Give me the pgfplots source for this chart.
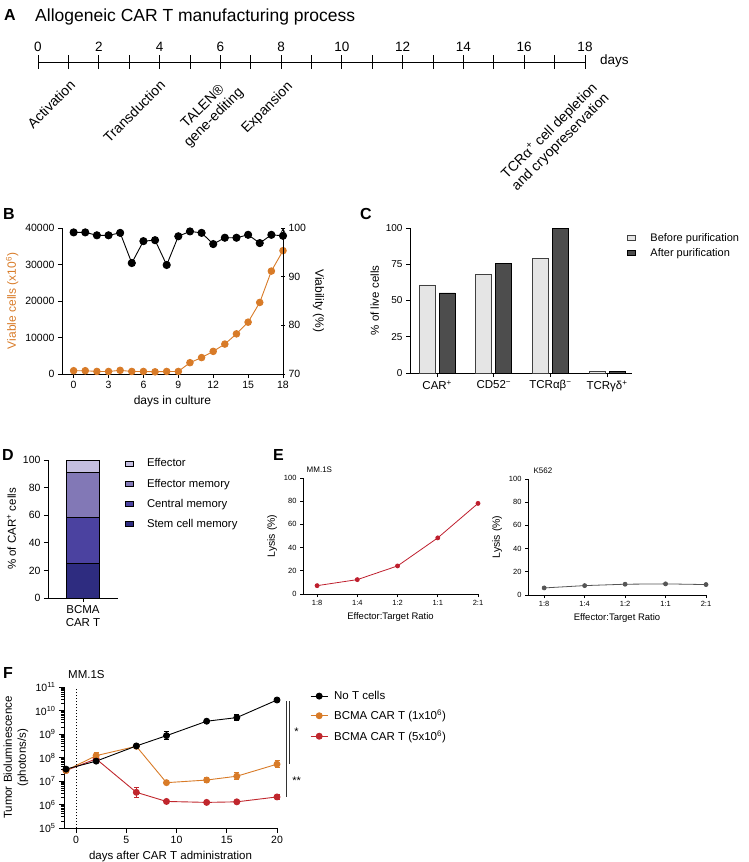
\documentclass[border=0pt]{standalone}
\usepackage{fontspec}
\setmainfont{Liberation Sans}
\setsansfont{Liberation Sans}
\usepackage{pgfplots}
\pgfplotsset{compat=1.18}
\definecolor{orB}{RGB}{216,123,40}
\definecolor{redF}{RGB}{192,39,45}
\definecolor{redE}{RGB}{190,30,45}
\definecolor{grayE}{RGB}{85,85,85}
\definecolor{lightG}{RGB}{229,229,229}
\definecolor{darkG}{RGB}{77,77,77}
\definecolor{effC}{RGB}{196,190,224}
\definecolor{effmC}{RGB}{130,120,182}
\definecolor{centC}{RGB}{75,66,160}
\definecolor{stemC}{RGB}{46,44,128}
\pgfplotsset{
  gp/.style={
    scale only axis, anchor=south west,
    axis x line=bottom, axis y line=left,
    axis line style={-, line width=0.8pt},
    every outer x axis line/.append style={-},
    every outer y axis line/.append style={-},
    tick align=outside, major tick length=4pt,
    tick style={black, line width=0.8pt},
    /pgf/number format/assume math mode=true,
    legend cell align=left,
    clip=false,
  },
  boxlegend/.style={legend image code/.code={\draw[##1, line width=0.8pt] (0pt,-2.5pt) rectangle (8pt,2.5pt);}},
}
\begin{document}
\begin{tikzpicture}
\useasboundingbox (0,0) rectangle (748pt,-862pt);

% panel letters
\begin{scope}[every node/.style={anchor=base west, inner sep=0pt, font=\fontsize{16}{16}\selectfont\bfseries}]
\node at (4pt,-20pt) {A};
\node at (3pt,-219pt) {B};
\node at (360pt,-219pt) {C};
\node at (2pt,-460pt) {D};
\node at (273pt,-460pt) {E};
\node at (3pt,-678pt) {F};
\end{scope}

% ---------------- A ----------------
\node[anchor=base west, inner sep=0pt, font=\fontsize{17.5}{18}\selectfont] at (35pt,-21pt) {Allogeneic CAR T manufacturing process};
\begin{axis}[scale only axis, at={(38pt,-62pt)}, anchor=north west, width=547pt, height=1pt,
  xmin=0, xmax=18, ymin=0, ymax=1, axis x line=top, axis y line=none,
  axis line style={-, line width=0.8pt}, every outer x axis line/.append style={-},
  xtick={0,...,18}, xticklabels={0,,2,,4,,6,,8,,10,,12,,14,,16,,18},
  tick align=center, major tick length=14pt, tick style={black, line width=0.8pt},
  xticklabel style={font=\fontsize{13.5}{14}\selectfont}]
\end{axis}
\node[anchor=west, inner sep=0pt, font=\fontsize{13.5}{14}\selectfont] at (600pt,-61pt) {days};
\begin{scope}[every node/.style={rotate=45, anchor=north east, inner sep=0pt, align=center, font=\fontsize{14}{15.5}\selectfont}]
\node at (69pt,-79pt) {Activation};
\node at (159pt,-79pt) {Transduction};
\node at (226pt,-75pt) {TALEN®\\gene-editing};
\node at (286pt,-80pt) {Expansion};
\node at (591pt,-80pt) {TCRα\textsuperscript{+} cell depletion\\and cryopreservation};
\end{scope}

% ---------------- B ----------------
\begin{axis}[gp, at={(62pt,-374pt)}, width=221pt, height=146pt,
  xmin=-1, xmax=18, ymin=0, ymax=40000,
  xtick={0,3,...,18}, ytick={0,10000,20000,30000,40000}, scaled y ticks=false,
  yticklabel style={/pgf/number format/fixed, /pgf/number format/1000 sep={}},
  ticklabel style={font=\fontsize{10.5}{12}\selectfont},
  xlabel={days in culture}, ylabel={Viable cells (x10\textsuperscript{6})},
  label style={font=\fontsize{12}{14}\selectfont}, ylabel style={text=orB}]
\addplot[orB, line width=0.9pt, mark=*, mark size=3.3pt, mark options={fill=orB, draw=orB}] coordinates {
(0,900) (1,900) (2,700) (3,700) (4,1000) (5,700) (6,700) (7,600) (8,700) (9,700)
(10,3100) (11,4500) (12,6200) (13,8200) (14,11000) (15,14200) (16,19600) (17,28200) (18,33800)};
\end{axis}
\begin{axis}[gp, at={(62pt,-374pt)}, width=221pt, height=146pt,
  xmin=-1, xmax=18, ymin=70, ymax=100, axis x line=none, axis y line=right,
  ytick={70,80,90,100},
  ticklabel style={font=\fontsize{10.5}{12}\selectfont},
  ylabel={Viability (\%)}, ylabel style={rotate=180, font=\fontsize{12}{14}\selectfont}]
\addplot[black, line width=0.9pt, mark=*, mark size=3.6pt, mark options={fill=black}] coordinates {
(0,99.1) (1,99.1) (2,98.5) (3,98.5) (4,99.0) (5,92.8) (6,97.3) (7,97.5) (8,92.4) (9,98.3)
(10,99.3) (11,99.0) (12,96.7) (13,98.0) (14,98.0) (15,98.6) (16,96.9) (17,98.6) (18,98.4)};
\end{axis}

% ---------------- C ----------------
\begin{axis}[gp, at={(410pt,-373pt)}, width=222pt, height=145pt,
  xmin=-0.48, xmax=3.44, ymin=0, ymax=100,
  ytick={0,25,50,75,100}, xtick={0,1,2,3},
  xticklabels={{CAR\textsuperscript{+}},{CD52\textsuperscript{−}},{TCRαβ\textsuperscript{−}},{TCRγδ\textsuperscript{+}}},
  xticklabel style={font=\fontsize{11.5}{12}\selectfont},
  yticklabel style={font=\fontsize{10}{12}\selectfont},
  bar width=16pt,
  ylabel={\% of live cells}, ylabel style={font=\fontsize{11.5}{13}\selectfont},
  legend style={at={(axis description cs:0.975,0.98)}, anchor=north west, draw=none, fill=none,
    font=\fontsize{11}{12}\selectfont, row sep=2pt, inner sep=0pt,
    /tikz/every odd column/.append style={column sep=13pt}}]
\addplot[ybar, bar shift=-10pt, fill=lightG, draw=black!75, line width=0.8pt, forget plot] coordinates {(0,60.7) (1,67.8) (2,79.3) (3,1.3)};
\addplot[ybar, bar shift=10pt, fill=darkG, draw=black, line width=0.8pt, forget plot] coordinates {(0,55.2) (1,75.6) (2,100) (3,1.3)};
\addlegendimage{boxlegend, fill=lightG, draw=black!75}
\addlegendentry{Before purification}
\addlegendimage{boxlegend, fill=darkG, draw=black}
\addlegendentry{After purification}
\end{axis}

% ---------------- D ----------------
\begin{axis}[gp, at={(48pt,-598pt)}, width=70pt, height=138pt,
  xmin=-1, xmax=1, ymin=0, ymax=100, ytick={0,20,...,100},
  xtick={0}, xticklabels={{BCMA\\CAR T}},
  xticklabel style={align=center, font=\fontsize{11.5}{13}\selectfont},
  yticklabel style={font=\fontsize{10.5}{12}\selectfont},
  ybar stacked, bar width=33pt,
  ylabel={\% of CAR\textsuperscript{+} cells}, ylabel style={font=\fontsize{11.5}{13}\selectfont},
  legend style={at={(axis description cs:1.1,1.025)}, anchor=north west, draw=none, fill=none,
    font=\fontsize{11.3}{12}\selectfont, row sep=6.5pt, inner sep=0pt,
    /tikz/every odd column/.append style={column sep=11pt}}]
\addplot[fill=stemC, draw=black, line width=0.8pt, forget plot] coordinates {(0,24.8)};
\addplot[fill=centC, draw=black, line width=0.8pt, forget plot] coordinates {(0,33.8)};
\addplot[fill=effmC, draw=black, line width=0.8pt, forget plot] coordinates {(0,32.2)};
\addplot[fill=effC, draw=black, line width=0.8pt, forget plot] coordinates {(0,9.2)};
\addlegendimage{boxlegend, fill=effC, draw=black}
\addlegendentry{Effector}
\addlegendimage{boxlegend, fill=effmC, draw=black}
\addlegendentry{Effector memory}
\addlegendimage{boxlegend, fill=centC, draw=black}
\addlegendentry{Central memory}
\addlegendimage{boxlegend, fill=stemC, draw=black}
\addlegendentry{Stem cell memory}
\end{axis}

% ---------------- E ----------------
\begin{axis}[gp, at={(303pt,-594pt)}, width=175pt, height=116pt,
  xmin=-0.35, xmax=4, ymin=0, ymax=100,
  xtick={0,...,4}, xticklabels={1:8,1:4,1:2,1:1,2:1}, ytick={0,20,...,100},
  ticklabel style={font=\fontsize{7.5}{8}\selectfont}, major tick length=3pt,
  xlabel={Effector:Target Ratio}, ylabel={Lysis (\%)},
  xlabel style={font=\fontsize{9.5}{10}\selectfont}, ylabel style={font=\fontsize{10.5}{11}\selectfont}]
\addplot[redE, line width=0.8pt, mark=*, mark size=2pt, mark options={fill=redE}] coordinates {(0,7.2) (1,12.4) (2,24.2) (3,48.4) (4,78.1)};
\node[anchor=base west, inner sep=0pt, font=\fontsize{8}{8}\selectfont] at (axis description cs:0.02,1.05) {MM.1S};
\end{axis}
\begin{axis}[gp, at={(528pt,-595pt)}, width=178pt, height=116pt,
  xmin=-0.4, xmax=4, ymin=0, ymax=100,
  xtick={0,...,4}, xticklabels={1:8,1:4,1:2,1:1,2:1}, ytick={0,20,...,100},
  ticklabel style={font=\fontsize{7.5}{8}\selectfont}, major tick length=3pt,
  xlabel={Effector:Target Ratio}, ylabel={Lysis (\%)},
  xlabel style={font=\fontsize{9.5}{10}\selectfont}, ylabel style={font=\fontsize{10.5}{11}\selectfont}]
\addplot[grayE, line width=0.8pt, mark=*, mark size=2pt, mark options={fill=grayE}] coordinates {(0,6.1) (1,8.1) (2,9.3) (3,9.6) (4,9.0)};
\node[anchor=base west, inner sep=0pt, font=\fontsize{8}{8}\selectfont] at (axis description cs:0.03,1.05) {K562};
\end{axis}

% ---------------- F ----------------
\begin{axis}[gp, at={(64pt,-828pt)}, width=213pt, height=141pt,
  ymode=log, xmin=-1.2, xmax=20, ymin=1e5, ymax=1e11,
  xtick={0,5,10,15,20},
  ytick={1e5,1e6,1e7,1e8,1e9,1e10,1e11},
  yticklabels={10\textsuperscript{5},10\textsuperscript{6},10\textsuperscript{7},10\textsuperscript{8},10\textsuperscript{9},10\textsuperscript{10},10\textsuperscript{11}},
  ticklabel style={font=\fontsize{10.5}{12}\selectfont},
  major tick length=5pt, minor tick length=2.5pt,
  xlabel={days after CAR T administration},
  ylabel={Tumor Bioluminescence\\(photons/s)},
  xlabel style={font=\fontsize{11.5}{13}\selectfont},
  ylabel style={align=center, font=\fontsize{11.5}{14}\selectfont},
  reverse legend,
  legend style={at={(axis description cs:1.155,0.986)}, anchor=north west, draw=none, fill=none,
    font=\fontsize{11.5}{12}\selectfont, row sep=5pt, inner sep=0pt,
    /tikz/every odd column/.append style={column sep=4pt}}]
\addplot[redF, line width=0.9pt, mark=*, mark size=3pt, mark options={fill=redF},
  error bars/.cd, y dir=both, y explicit relative, error bar style={line width=0.9pt, redF}, error mark options={rotate=90, mark size=2.5pt, line width=0.9pt, redF}]
  table[x=x, y=y, y error plus=ep, y error minus=em] {
x y ep em
-1 2.8e7 0.02 0.02
2 8.7e7 0.18 0.15
6 3.3e6 0.58 0.37
9 1.35e6 0.14 0.12
13 1.23e6 0.10 0.09
16 1.3e6 0.14 0.12
20 2.1e6 0.30 0.23
};
\addlegendentry{BCMA CAR T (5x10\textsuperscript{6})}
\addplot[orB, line width=0.9pt, mark=*, mark size=3pt, mark options={fill=orB},
  error bars/.cd, y dir=both, y explicit relative, error bar style={line width=0.9pt, orB}, error mark options={rotate=90, mark size=2.5pt, line width=0.9pt, orB}]
  table[x=x, y=y, y error plus=ep, y error minus=em] {
x y ep em
-1 2.8e7 0.02 0.02
2 1.2e8 0.39 0.28
6 3.0e8 0.10 0.09
9 8.5e6 0.22 0.18
13 1.1e7 0.30 0.23
16 1.6e7 0.39 0.28
20 5.2e7 0.39 0.28
};
\addlegendentry{BCMA CAR T (1x10\textsuperscript{6})}
\addplot[black, line width=0.9pt, mark=*, mark size=3pt, mark options={fill=black},
  error bars/.cd, y dir=both, y explicit relative, error bar style={line width=0.9pt, black}, error mark options={rotate=90, mark size=2.5pt, line width=0.9pt, black}]
  table[x=x, y=y, y error plus=ep, y error minus=em] {
x y ep em
-1 3.2e7 0.02 0.02
2 7.0e7 0.18 0.15
6 3.1e8 0.10 0.09
9 8.5e8 0.48 0.32
13 3.5e9 0.18 0.15
16 5.0e9 0.30 0.23
20 2.8e10 0.14 0.12
};
\addlegendentry{No T cells}
\draw[dotted, line width=1pt] (axis cs:0,1e5) -- (axis cs:0,1e11);
\node[anchor=base west, inner sep=0pt, font=\fontsize{11.5}{12}\selectfont] at (axis cs:-0.8,2.2e11) {MM.1S};
\draw[line width=0.9pt, black!80] (axis cs:20.94,2.5e10) -- (axis cs:20.94,2.1e6);
\draw[line width=0.9pt, black!80] (axis cs:21.24,2.5e10) -- (axis cs:21.24,5.2e7);
\node[anchor=west, inner sep=0pt, font=\fontsize{11}{12}\selectfont] at (axis cs:21.7,1.2e9) {*};
\node[anchor=west, inner sep=0pt, font=\fontsize{11}{12}\selectfont] at (axis cs:21.5,1.0e7) {**};
\end{axis}
\end{tikzpicture}
\end{document}
